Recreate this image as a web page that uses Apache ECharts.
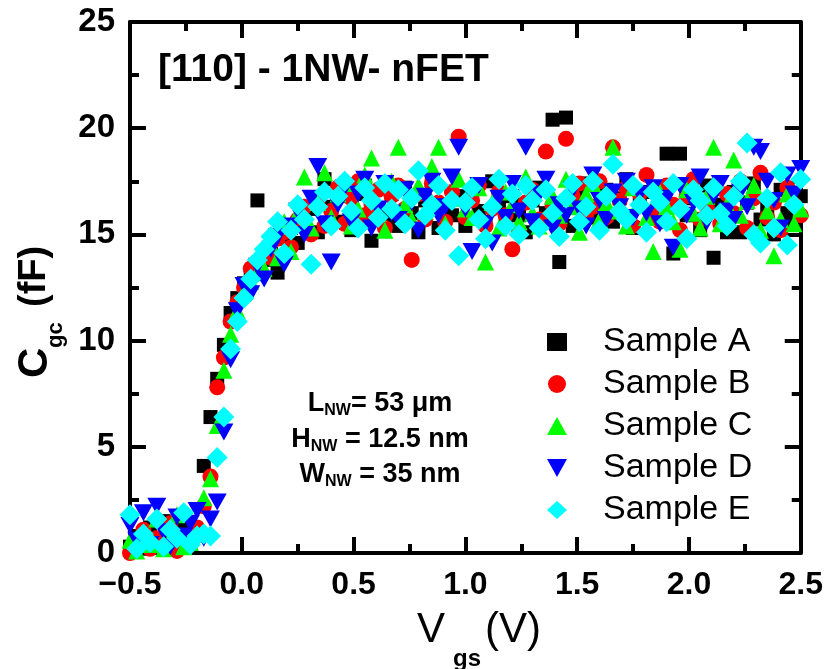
<!DOCTYPE html>
<html>
<head>
<meta charset="utf-8">
<script src="https://cdn.jsdelivr.net/npm/echarts@6/dist/echarts.min.js"></script>
<style>html,body{margin:0;padding:0;background:#fff;}#c{width:826px;height:669px;}</style>
</head>
<body>
<div id="c"></div>
<script>
const vgs = [-0.50,-0.47,-0.44,-0.41,-0.38,-0.35,-0.32,-0.29,-0.26,-0.23,
-0.20,-0.17,-0.14,-0.11,-0.08,-0.05,-0.02,0.01,0.04,0.07,
0.10,0.13,0.16,0.19,0.22,0.25,0.28,0.31,0.34,0.37,
0.40,0.43,0.46,0.49,0.52,0.55,0.58,0.61,0.64,0.67,
0.70,0.73,0.76,0.79,0.82,0.85,0.88,0.91,0.94,0.97,
1.00,1.03,1.06,1.09,1.12,1.15,1.18,1.21,1.24,1.27,
1.30,1.33,1.36,1.39,1.42,1.45,1.48,1.51,1.54,1.57,
1.60,1.63,1.66,1.69,1.72,1.75,1.78,1.81,1.84,1.87,
1.90,1.93,1.96,1.99,2.02,2.05,2.08,2.11,2.14,2.17,
2.20,2.23,2.26,2.29,2.32,2.35,2.38,2.41,2.44,2.47,
2.50];

const sampleA = [0.3,0.8,0.2,1.2,0.5,1.5,0.9,0.4,1.3,0.6,
1.0,4.1,6.4,8.2,9.8,11.3,12.0,12.7,13.2,16.6,
13.8,14.1,13.2,14.8,15.3,14.6,15.8,16.2,15.1,17.6,
16.3,15.6,16.8,15.2,16.9,17.3,14.7,16.2,15.8,16.9,
15.4,17.2,16.0,15.1,16.6,17.4,15.3,16.4,15.9,16.8,
15.4,17.0,16.1,15.6,17.5,16.3,15.5,16.8,15.9,15.1,
16.6,17.2,16.0,20.4,13.7,20.5,15.4,16.9,17.4,15.8,
16.2,17.1,15.6,16.7,17.6,15.3,16.4,17.0,15.8,16.2,
18.8,14.1,18.8,15.9,16.7,15.2,17.3,13.9,16.4,15.1,
17.0,15.1,16.5,17.4,15.7,16.2,15.0,17.1,16.0,15.6,
16.8];

const sampleB = [0.0,0.5,1.1,0.2,0.7,0.3,1.4,0.1,0.8,0.4,
1.2,2.2,3.6,7.8,9.2,10.9,11.8,12.5,13.4,13.6,
14.2,13.9,14.8,15.1,14.4,15.7,16.3,15.0,16.6,15.4,
16.1,17.2,15.5,16.7,17.5,15.9,16.4,17.1,15.3,16.8,
17.3,16.2,13.8,16.9,15.7,17.4,16.5,15.6,17.0,19.6,
15.8,16.6,17.3,15.4,16.2,17.0,15.9,14.3,15.1,16.5,
17.1,15.7,18.9,16.4,15.5,19.5,16.8,17.4,15.9,16.3,
17.5,15.8,19.1,16.6,17.2,15.4,16.9,17.8,16.1,15.6,
17.3,16.4,15.2,16.8,17.6,15.7,16.3,17.1,15.5,16.9,
16.0,17.5,15.3,16.7,17.9,15.8,16.5,15.2,17.2,16.4,
15.9];

const sampleC = [0.6,0.1,0.9,0.4,1.6,0.2,0.7,1.8,0.3,0.5,
0.9,2.6,3.5,6.0,8.6,10.3,11.4,12.3,12.8,13.2,
13.4,14.5,13.9,15.6,14.2,16.0,17.7,15.3,16.5,17.9,
15.8,16.9,17.4,15.4,16.2,17.8,18.6,16.0,15.2,17.5,
19.1,16.4,15.7,17.3,16.1,18.2,19.1,15.5,16.7,17.6,
16.2,15.8,17.2,13.7,16.5,15.3,17.0,16.4,15.6,17.7,
16.0,15.4,17.3,16.8,15.9,17.6,16.3,15.1,16.9,17.4,
15.7,16.5,19.1,16.1,15.4,17.2,16.6,15.8,14.2,17.0,
16.3,15.6,14.3,17.1,16.0,15.3,16.8,19.1,15.5,16.4,
18.5,15.9,16.6,17.3,15.2,16.1,14.0,15.7,16.9,15.5,
16.2];

const sampleD = [1.3,0.6,1.9,0.4,2.2,1.0,0.3,1.7,0.8,1.4,
2.0,0.7,1.6,2.4,5.7,9.1,11.4,12.6,12.2,13.5,
12.9,14.3,14.9,13.6,15.4,16.1,15.0,16.7,18.2,15.5,
13.7,16.4,17.2,15.6,16.9,17.6,15.3,16.2,17.4,16.0,
15.7,17.1,16.5,15.2,16.8,17.5,15.9,16.3,17.7,19.1,
16.2,14.2,17.3,15.5,14.6,16.7,15.8,17.4,16.1,19.1,
15.6,16.9,17.6,15.3,16.4,15.9,17.1,16.2,15.4,17.8,
16.6,15.7,17.0,16.3,17.5,15.8,16.9,16.0,17.2,15.5,
16.7,14.4,17.3,15.9,16.5,17.7,15.6,16.8,17.4,16.1,
15.7,17.0,16.3,19.1,18.9,17.5,16.6,15.3,17.8,16.9,
18.1];

const sampleE = [1.8,0.2,0.9,0.5,1.6,0.3,1.1,0.7,1.9,0.4,
0.8,0.9,0.8,4.5,6.4,9.6,10.9,12.0,12.9,13.8,
14.3,14.9,15.6,14.1,15.2,16.4,15.7,13.6,16.3,17.0,
15.4,16.8,17.5,16.1,15.3,17.2,16.6,15.8,17.4,16.2,
17.1,15.5,16.7,18.0,15.9,16.4,17.3,15.2,16.6,14.0,
16.5,17.2,15.7,14.8,16.3,17.6,15.4,16.9,15.0,17.3,
16.6,15.3,17.1,16.0,14.9,16.7,17.4,15.6,16.3,17.5,
15.2,16.8,18.3,16.1,15.7,17.3,16.4,15.1,17.0,16.5,
15.6,17.4,16.2,14.8,17.1,16.6,15.9,17.2,16.0,15.4,
16.8,17.5,19.3,15.0,14.6,16.7,15.3,17.9,14.5,16.4,
17.6];

const seriesNames = ['Sample A','Sample B','Sample C','Sample D','Sample E'];
const seriesValues = [sampleA, sampleB, sampleC, sampleD, sampleE];
const seriesColors = ['#000000','#ff0000','#00ff00','#0000ff','#00ffff'];
const seriesSymbols = ['rect','circle','triangle','path://M0,0L10,0L5,9Z','diamond'];
const seriesSizes = [14, 16, 17, [19,17], 21];

const FONT = '"Liberation Sans", Arial, sans-serif';
const chart = echarts.init(document.getElementById('c'), null, {renderer:'canvas'});

function xAxisDef(pos, showLabel){
  return {
    type:'value', min:-0.5, max:2.5, interval:0.5, position:pos,
    axisLine:{show:true, onZero:false, lineStyle:{color:'#000', width:4}},
    axisTick:{show:true, inside:true, length:16, lineStyle:{color:'#000', width:4}},
    minorTick:{show:true, splitNumber:2, length:9, lineStyle:{color:'#000', width:4}},
    splitLine:{show:false},
    axisLabel:{show:showLabel, fontSize:32, fontWeight:'bold', color:'#000', fontFamily:FONT, margin:16,
      formatter:v=>v.toFixed(1).replace('-','\u2212')}
  };
}
function yAxisDef(pos, showLabel){
  return {
    type:'value', min:0, max:25, interval:5, position:pos,
    axisLine:{show:true, onZero:false, lineStyle:{color:'#000', width:4}},
    axisTick:{show:true, inside:true, length:16, lineStyle:{color:'#000', width:4}},
    minorTick:{show:true, splitNumber:2, length:9, lineStyle:{color:'#000', width:4}},
    splitLine:{show:false},
    axisLabel:{show:showLabel, fontSize:33, fontWeight:'bold', color:'#000', fontFamily:FONT, margin:15}
  };
}

const series = seriesNames.map((name,k)=>({
  name:name, type:'scatter', xAxisIndex:0, yAxisIndex:0,
  symbol:seriesSymbols[k], symbolSize:seriesSizes[k],
  itemStyle:{color:seriesColors[k], opacity:1},
  data: vgs.map((x,i)=>[x, seriesValues[k][i]]),
  z: 2+k
}));

const ann = {fontSize:27, fontWeight:'bold', lineHeight:30, fontFamily:FONT, color:'#000'};
const sub = {fontSize:16, fontWeight:'bold', lineHeight:16, verticalAlign:'bottom', fontFamily:FONT, color:'#000'};
function annText(str, y){
  return {type:'text', x:380, y:y, z:100,
    style:{text:str, align:'center', verticalAlign:'middle', rich:{m:ann, s:sub}}};
}

chart.setOption({
  animation:false,
  backgroundColor:'#fff',
  grid:{left:130, right:25, top:22, bottom:116, containLabel:false},
  xAxis:[xAxisDef('bottom', true), xAxisDef('top', false)],
  yAxis:[yAxisDef('left', true), yAxisDef('right', false)],
  legend:{
    orient:'vertical', left:542, top:320, itemWidth:20, itemHeight:18, itemGap:8,
    textStyle:{fontSize:34, lineHeight:32, color:'#000', fontFamily:FONT, padding:[0,0,0,31]},
    selectedMode:false,
    data: seriesNames.map((n,k)=>({name:n, icon:seriesSymbols[k]}))
  },
  series: series,
  graphic:[
    {type:'text', x:158, y:70, z:100, style:{text:'[110] - 1NW- nFET', fontSize:39, fontWeight:'bold', fontFamily:FONT, fill:'#000', verticalAlign:'middle'}},
    annText('{m|L}{s|NW}{m|= 53 \u03bcm}', 403.5),
    annText('{m|H}{s|NW}{m| = 12.5 nm}', 440),
    annText('{m|W}{s|NW}{m| = 35 nm}', 474.5),
    {type:'group', x:417, y:0, z:100, children:[
      {type:'text', x:0, y:630, style:{text:'V', fontSize:42, fontFamily:FONT, fill:'#000', verticalAlign:'middle'}},
      {type:'text', x:36, y:659.5, style:{text:'gs', fontSize:24, fontWeight:'bold', fontFamily:FONT, fill:'#000', verticalAlign:'middle'}},
      {type:'text', x:68, y:630, style:{text:'(V)', fontSize:42, fontFamily:FONT, fill:'#000', verticalAlign:'middle'}}
    ]},
    {type:'group', x:0, y:378, rotation:Math.PI/2, z:100, children:[
      {type:'text', x:0, y:35, style:{text:'C', fontSize:42, fontWeight:'bold', fontFamily:FONT, fill:'#000', verticalAlign:'middle'}},
      {type:'text', x:30, y:56, style:{text:'gc', fontSize:22, fontWeight:'bold', fontFamily:FONT, fill:'#000', verticalAlign:'middle'}},
      {type:'text', x:71, y:35, style:{text:'(fF)', fontSize:38, fontWeight:'bold', fontFamily:FONT, fill:'#000', verticalAlign:'middle'}}
    ]}
  ]
});
</script>
</body>
</html>
